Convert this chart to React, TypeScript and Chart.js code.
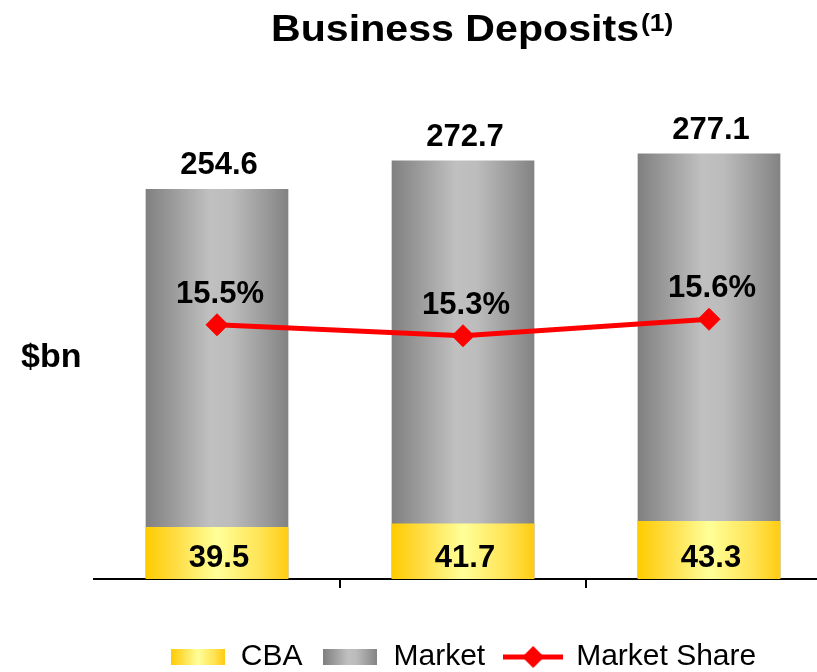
import React, { useEffect, useRef } from 'react';
import { Chart, registerables } from 'chart.js';

Chart.register(...registerables);

const categories = ['Period 1', 'Period 2', 'Period 3'];
const cbaDeposits = [39.5, 41.7, 43.3];
const marketDeposits = [254.6, 272.7, 277.1];
const marketShare = [15.5, 15.3, 15.6];
const seriesNames = ['CBA', 'Market', 'Market Share'];
const titleText = 'Business Deposits';
const titleNote = '(1)';
const unitLabel = '$bn';

const FONT = "'Liberation Sans', Arial, Helvetica, sans-serif";
const BAR_PCT = 0.58;

function yellowGrad(ctx: CanvasRenderingContext2D, x0: number, x1: number) {
  const g = ctx.createLinearGradient(x0, 0, x1, 0);
  g.addColorStop(0, '#ffcc00');
  g.addColorStop(0.2, '#ffdc40');
  g.addColorStop(0.5, '#ffff99');
  g.addColorStop(0.8, '#ffe455');
  g.addColorStop(1, '#ffcc11');
  return g;
}

function grayGrad(ctx: CanvasRenderingContext2D, x0: number, x1: number) {
  const g = ctx.createLinearGradient(x0, 0, x1, 0);
  g.addColorStop(0, '#808080');
  g.addColorStop(0.2, '#9c9c9c');
  g.addColorStop(0.45, '#c0c0c0');
  g.addColorStop(0.6, '#bcbcbc');
  g.addColorStop(0.85, '#999999');
  g.addColorStop(1, '#828282');
  return g;
}

const barFill = (maker: (c: CanvasRenderingContext2D, a: number, b: number) => CanvasGradient) => (c: any) => {
  const chart = c.chart;
  const area = chart.chartArea;
  const xs = chart.scales && chart.scales.x;
  if (!area || !xs || c.dataIndex === undefined) return '#bbbbbb';
  const cx = xs.getPixelForValue(c.dataIndex);
  const w = ((area.right - area.left) / categories.length) * BAR_PCT;
  return maker(chart.ctx, cx - w / 2, cx + w / 2);
};

function makeSwatch(maker: any, w: number, h: number) {
  const c = document.createElement('canvas');
  c.width = w;
  c.height = h;
  const x = c.getContext('2d') as CanvasRenderingContext2D;
  x.fillStyle = maker(x, 0, w);
  x.fillRect(0, 0, w, h);
  return c;
}

function makeLineMarker() {
  const c = document.createElement('canvas');
  c.width = 60;
  c.height = 24;
  const x = c.getContext('2d') as CanvasRenderingContext2D;
  x.strokeStyle = '#ff0000';
  x.lineWidth = 5;
  x.beginPath();
  x.moveTo(0, 12);
  x.lineTo(60, 12);
  x.stroke();
  x.fillStyle = '#ff0000';
  x.beginPath();
  x.moveTo(30, 1);
  x.lineTo(41, 12);
  x.lineTo(30, 23);
  x.lineTo(19, 12);
  x.closePath();
  x.fill();
  return c;
}

const labelPlugin = {
  id: 'bdLabels',
  afterDatasetsDraw(chart: any) {
    const { ctx, chartArea } = chart;
    ctx.save();
    ctx.fillStyle = '#000';
    ctx.font = `bold 31px ${FONT}`;
    ctx.textAlign = 'center';
    ctx.textBaseline = 'alphabetic';
    const cbaMeta = chart.getDatasetMeta(0);
    const mktMeta = chart.getDatasetMeta(1);
    const shareMeta = chart.getDatasetMeta(2);
    mktMeta.data.forEach((el: any, i: number) => {
      ctx.fillText(marketDeposits[i].toFixed(1), el.x + 2, el.y - 15);
    });
    cbaMeta.data.forEach((el: any, i: number) => {
      ctx.fillText(cbaDeposits[i].toFixed(1), el.x + 2, chartArea.bottom - 12);
    });
    shareMeta.data.forEach((el: any, i: number) => {
      ctx.fillText(marketShare[i].toFixed(1) + '%', el.x + 3, el.y - 22);
    });
    ctx.restore();
  },
  afterDraw(chart: any) {
    const { ctx } = chart;
    ctx.save();
    ctx.fillStyle = '#000';
    ctx.textBaseline = 'alphabetic';
    ctx.textAlign = 'left';
    // title
    ctx.font = `bold 37px ${FONT}`;
    const w = ctx.measureText(titleText).width;
    const targetW = 368;
    const sx = targetW / w;
    ctx.save();
    ctx.translate(271, 41);
    ctx.scale(sx, 1);
    ctx.fillText(titleText, 0, 0);
    ctx.restore();
    ctx.font = `bold 24px ${FONT}`;
    ctx.save();
    ctx.translate(271 + targetW + 2, 31);
    ctx.scale(1.1, 1);
    ctx.fillText(titleNote, 0, 0);
    ctx.restore();
    // unit label
    ctx.font = `bold 34px ${FONT}`;
    ctx.fillText(unitLabel, 21, 367);
    ctx.restore();
  },
};

export default function App() {
  const ref = useRef<HTMLCanvasElement | null>(null);

  useEffect(() => {
    if (!ref.current) return;
    const swatches = [
      makeSwatch(yellowGrad, 54, 16),
      makeSwatch(grayGrad, 54, 16),
      makeLineMarker(),
    ];
    const chart = new Chart(ref.current, {
      type: 'bar',
      data: {
        labels: categories,
        datasets: [
          {
            type: 'bar',
            label: seriesNames[0],
            data: cbaDeposits,
            backgroundColor: barFill(yellowGrad) as any,
            borderWidth: 0,
            barPercentage: BAR_PCT,
            categoryPercentage: 1,
            order: 1,
          },
          {
            type: 'bar',
            label: seriesNames[1],
            data: marketDeposits,
            backgroundColor: barFill(grayGrad) as any,
            borderWidth: 0,
            barPercentage: BAR_PCT,
            categoryPercentage: 1,
            order: 2,
          },
          {
            type: 'line',
            label: seriesNames[2],
            data: marketShare,
            yAxisID: 'y1',
            borderColor: '#ff0000',
            borderWidth: 5,
            pointStyle: 'rectRot',
            pointRadius: 11,
            pointHoverRadius: 11,
            pointBackgroundColor: '#ff0000',
            pointBorderColor: '#ff0000',
            pointBorderWidth: 1,
            tension: 0,
            order: 0,
          } as any,
        ],
      },
      options: {
        responsive: false,
        animation: false,
        devicePixelRatio: 1,
        events: [],
        layout: { padding: { left: 94, right: 104, top: 70, bottom: 0 } },
        plugins: {
          title: { display: false },
          tooltip: { enabled: false },
          legend: {
            display: true,
            position: 'bottom',
            maxHeight: 50,
            labels: {
              usePointStyle: true,
              pointStyleWidth: 56,
              padding: 20,
              color: '#000',
              font: { family: FONT, size: 30 },
              generateLabels: () =>
                seriesNames.map((name, i) => ({
                  text: name,
                  fillStyle: '#000',
                  strokeStyle: 'rgba(0,0,0,0)',
                  lineWidth: 0,
                  pointStyle: swatches[i] as any,
                  hidden: false,
                  datasetIndex: i,
                  fontColor: '#000',
                })),
            },
          },
        },
        scales: {
          x: {
            stacked: true,
            offset: true,
            grid: {
              display: true,
              offset: true,
              drawOnChartArea: false,
              drawTicks: true,
              tickLength: 9,
              lineWidth: 2,
              color: (c: any) =>
                c.index === undefined || c.index === 0 || c.index >= categories.length
                  ? 'rgba(0,0,0,0)'
                  : '#000',
            },
            border: { display: true, color: '#000', width: 2 },
            ticks: { display: false },
            title: { display: true, text: '', font: { size: 34, lineHeight: 1 }, padding: 0 },
          },
          y: { display: false, stacked: false, min: 6.4, max: 330.3 },
          y1: { display: false, position: 'right', min: 10.88, max: 20.13 },
        },
      },
      plugins: [labelPlugin],
    } as any);
    return () => chart.destroy();
  }, []);

  return (
    <div
      style={{
        position: 'absolute',
        left: 0,
        top: 0,
        width: 817,
        height: 672,
        overflow: 'hidden',
        background: '#fff',
      }}
    >
      <canvas ref={ref} width={936} height={672} style={{ display: 'block' }} />
    </div>
  );
}
